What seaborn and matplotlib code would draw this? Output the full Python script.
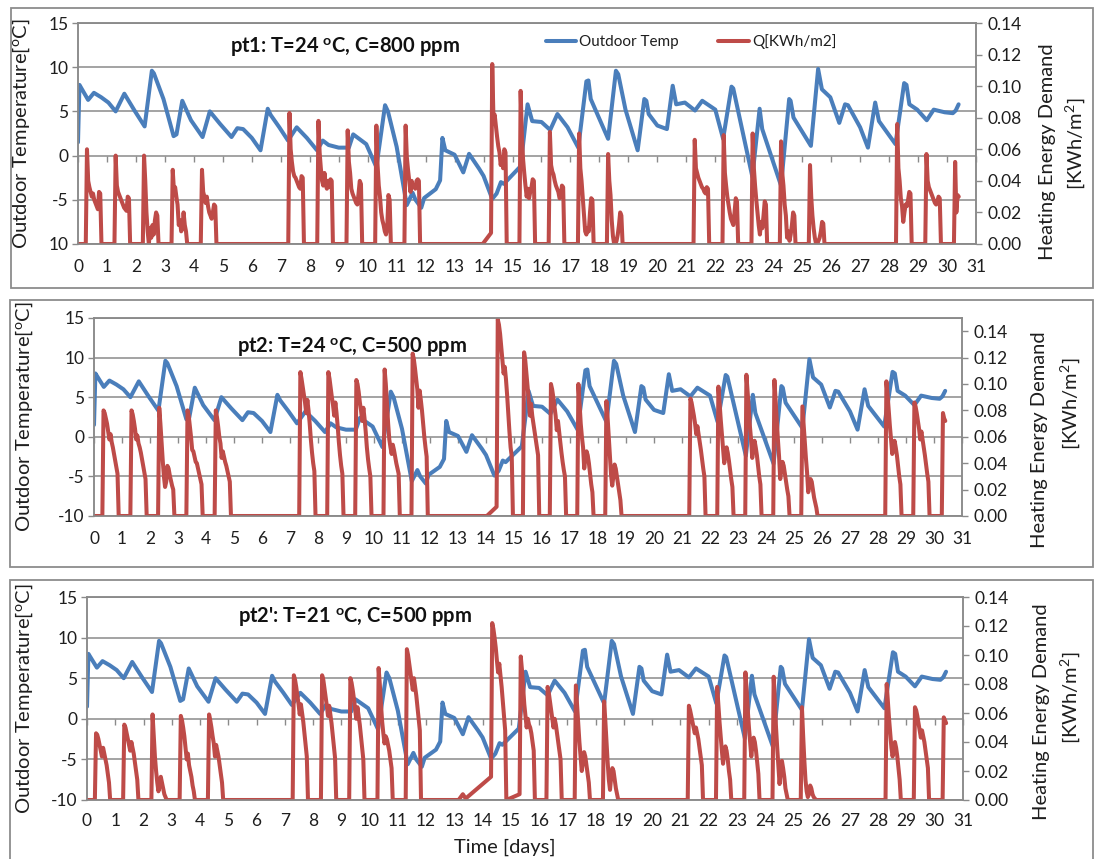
import numpy as np
import pandas as pd
import matplotlib
matplotlib.use("Agg")
import matplotlib.pyplot as plt
from matplotlib.patches import Rectangle
import seaborn as sns

# ---------------------------------------------
# Outdoor temperature (same in all three panels), key points
# ---------------------------------------------
temp_day = [0.00, 0.05, 0.12, 0.35, 0.55, 0.80, 1.05, 1.30, 1.60, 1.95, 2.30, 2.55, 2.62, 2.95,
            3.30, 3.40, 3.60, 3.90, 4.30, 4.55, 4.90, 5.30, 5.50, 5.70, 6.00, 6.30, 6.55, 6.65,
            6.95, 7.25, 7.55, 7.90, 8.25, 8.45, 8.65, 9.00, 9.35, 9.50, 9.95, 10.30, 10.60, 10.70,
            11.00, 11.35, 11.55, 11.65, 11.85, 11.95, 12.35, 12.50, 12.58, 12.68, 13.00, 13.30,
            13.50, 13.85, 14.00, 14.30, 14.45, 14.60, 14.70, 15.28, 15.52, 15.68, 16.00, 16.30,
            16.55, 16.90, 17.27, 17.55, 17.62, 17.70, 18.30, 18.57, 18.65, 18.90, 19.32, 19.55,
            19.62, 19.70, 20.00, 20.33, 20.53, 20.65, 20.95, 21.30, 21.55, 22.00, 22.27, 22.56,
            22.62, 23.28, 23.53, 23.62, 24.27, 24.55, 24.60, 24.70, 25.30, 25.55, 25.68, 25.97,
            26.28, 26.48, 26.58, 27.00, 27.27, 27.52, 27.65, 28.22, 28.52, 28.60, 28.70, 28.97,
            29.30, 29.54, 29.92, 30.20, 30.30, 30.40]
temp_val = [1.5, 8.0, 7.6, 6.3, 7.1, 6.6, 6.0, 5.0, 7.0, 5.1, 3.3, 9.6, 9.3, 6.4,
            2.2, 2.4, 6.2, 4.0, 2.1, 5.0, 3.6, 2.1, 3.1, 3.0, 2.0, 0.6, 5.3, 4.6,
            3.2, 1.7, 3.2, 2.0, 0.6, 1.7, 1.2, 0.9, 0.9, 2.4, 1.3, -1.3, 5.7, 5.0,
            1.0, -5.6, -4.2, -5.0, -5.9, -4.8, -3.8, -2.8, 2.0, 0.6, 0.1, -1.9,
            0.2, -1.5, -2.3, -4.9, -4.3, -3.0, -3.2, -1.2, 5.8, 3.9, 3.8, 2.9,
            4.7, 3.2, 0.9, 8.4, 8.5, 6.4, 1.9, 9.6, 9.2, 5.2, 0.6, 6.4,
            6.2, 4.7, 3.4, 3.0, 7.9, 5.8, 6.0, 5.1, 6.2, 5.2, 1.9, 7.8,
            7.6, -2.4, 5.3, 3.0, -3.4, 6.4, 6.2, 4.3, 1.1, 9.8, 7.5, 6.6,
            3.7, 5.8, 5.7, 3.2, 0.9, 6.0, 3.9, 1.3, 8.2, 8.0, 5.8, 5.2,
            4.0, 5.2, 4.9, 4.8, 5.1, 5.8]

# ---------------------------------------------
# Heating demand Q [kWh/m2]: one hourly pulse per working day
# (start day of the pulse, hourly values, value just before the pulse)
# ---------------------------------------------
pt1_start = [0.31, 1.30, 2.28, 3.27, 4.28, 7.30, 8.30, 9.31, 10.30, 11.31, 14.30, 15.28,
             16.29, 17.30, 18.30, 21.29, 22.29, 23.29, 24.27, 25.27, 28.28, 29.29, 30.28]
pt1_pre = {14.30: 0.007}
pt1_extra_t = [13.97]
pt1_extra_q = [0.0]
pt1_q = [
    [0.060, 0.040, 0.036, 0.033, 0.030, 0.032, 0.028, 0.026, 0.024, 0.022, 0.033, 0.032],
    [0.056, 0.037, 0.033, 0.031, 0.029, 0.027, 0.025, 0.023, 0.022, 0.021, 0.030, 0.029],
    [0.056, 0.040, 0.020, 0.008, 0.000, 0.010, 0.004, 0.012, 0.006, 0.015, 0.020, 0.018],
    [0.047, 0.034, 0.036, 0.030, 0.025, 0.012, 0.015, 0.008, 0.010, 0.020, 0.012, 0.008],
    [0.047, 0.033, 0.030, 0.026, 0.030, 0.024, 0.020, 0.018, 0.016, 0.020, 0.025, 0.024],
    [0.083, 0.060, 0.052, 0.046, 0.043, 0.042, 0.040, 0.038, 0.036, 0.035, 0.043, 0.042],
    [0.078, 0.058, 0.048, 0.040, 0.037, 0.045, 0.038, 0.035, 0.040, 0.036, 0.041, 0.040],
    [0.072, 0.052, 0.045, 0.035, 0.032, 0.030, 0.028, 0.026, 0.025, 0.032, 0.040, 0.038],
    [0.075, 0.050, 0.037, 0.030, 0.020, 0.015, 0.012, 0.008, 0.006, 0.010, 0.031, 0.028],
    [0.075, 0.055, 0.047, 0.040, 0.033, 0.040, 0.036, 0.037, 0.035, 0.040, 0.041, 0.040],
    [0.114, 0.080, 0.082, 0.075, 0.068, 0.062, 0.058, 0.050, 0.055, 0.048, 0.060, 0.058],
    [0.097, 0.070, 0.054, 0.045, 0.037, 0.030, 0.035, 0.029, 0.033, 0.036, 0.041, 0.040],
    [0.071, 0.050, 0.046, 0.044, 0.040, 0.037, 0.035, 0.033, 0.029, 0.030, 0.037, 0.036],
    [0.070, 0.048, 0.040, 0.029, 0.018, 0.008, 0.006, 0.010, 0.008, 0.020, 0.029, 0.028],
    [0.057, 0.040, 0.031, 0.015, 0.005, 0.000, 0.000, 0.002, 0.006, 0.012, 0.020, 0.018],
    [0.066, 0.048, 0.045, 0.042, 0.040, 0.038, 0.036, 0.035, 0.033, 0.032, 0.036, 0.035],
    [0.069, 0.045, 0.037, 0.030, 0.025, 0.020, 0.016, 0.014, 0.012, 0.020, 0.029, 0.027],
    [0.070, 0.048, 0.037, 0.028, 0.020, 0.012, 0.006, 0.014, 0.010, 0.018, 0.027, 0.025],
    [0.065, 0.045, 0.037, 0.025, 0.018, 0.004, 0.008, 0.002, 0.006, 0.012, 0.020, 0.018],
    [0.050, 0.030, 0.018, 0.010, 0.004, 0.000, 0.000, 0.002, 0.004, 0.008, 0.014, 0.013],
    [0.076, 0.048, 0.040, 0.029, 0.024, 0.014, 0.020, 0.025, 0.024, 0.028, 0.033, 0.032],
    [0.057, 0.040, 0.036, 0.034, 0.032, 0.030, 0.028, 0.026, 0.025, 0.027, 0.030, 0.029],
    [0.052, 0.020, 0.031, 0.030],
]

pt2_start = [0.34, 1.34, 2.33, 3.34, 4.35, 7.37, 8.37, 9.37, 10.38, 11.38, 14.42, 15.36,
             16.32, 17.30, 18.30, 21.30, 22.30, 23.30, 24.30, 25.30, 28.30, 29.30, 30.32]
pt2_pre = {14.42: 0.007}
pt2_extra_t = [14.03]
pt2_extra_q = [0.0]
pt2_q = [
    [0.080, 0.078, 0.074, 0.070, 0.064, 0.058, 0.062, 0.056, 0.052, 0.047, 0.042, 0.037, 0.032],
    [0.080, 0.077, 0.072, 0.066, 0.058, 0.061, 0.055, 0.052, 0.048, 0.043, 0.038, 0.033, 0.028],
    [0.082, 0.070, 0.056, 0.042, 0.030, 0.022, 0.026, 0.038, 0.036, 0.031, 0.027, 0.023, 0.020],
    [0.080, 0.076, 0.068, 0.060, 0.050, 0.049, 0.045, 0.041, 0.040, 0.036, 0.032, 0.028, 0.024],
    [0.080, 0.075, 0.068, 0.060, 0.055, 0.044, 0.049, 0.045, 0.041, 0.038, 0.034, 0.030, 0.026],
    [0.109, 0.104, 0.098, 0.092, 0.086, 0.078, 0.088, 0.080, 0.070, 0.058, 0.048, 0.040, 0.034],
    [0.109, 0.104, 0.097, 0.090, 0.084, 0.076, 0.086, 0.078, 0.068, 0.056, 0.046, 0.038, 0.032],
    [0.103, 0.100, 0.094, 0.086, 0.080, 0.072, 0.082, 0.074, 0.064, 0.052, 0.043, 0.036, 0.030],
    [0.111, 0.100, 0.085, 0.070, 0.058, 0.052, 0.047, 0.054, 0.050, 0.045, 0.040, 0.036, 0.032],
    [0.123, 0.119, 0.112, 0.104, 0.096, 0.082, 0.095, 0.088, 0.080, 0.070, 0.060, 0.052, 0.045],
    [0.149, 0.145, 0.138, 0.128, 0.118, 0.108, 0.113, 0.104, 0.092, 0.078, 0.064, 0.052, 0.045],
    [0.124, 0.118, 0.108, 0.098, 0.088, 0.076, 0.085, 0.076, 0.070, 0.064, 0.058, 0.052, 0.046],
    [0.100, 0.096, 0.090, 0.083, 0.076, 0.065, 0.072, 0.064, 0.056, 0.048, 0.041, 0.035, 0.030],
    [0.100, 0.085, 0.070, 0.060, 0.052, 0.036, 0.044, 0.049, 0.046, 0.040, 0.032, 0.024, 0.018],
    [0.087, 0.075, 0.060, 0.045, 0.031, 0.023, 0.030, 0.039, 0.036, 0.030, 0.024, 0.018, 0.012],
    [0.089, 0.086, 0.081, 0.076, 0.070, 0.062, 0.068, 0.062, 0.056, 0.050, 0.043, 0.036, 0.030],
    [0.098, 0.085, 0.073, 0.062, 0.052, 0.040, 0.046, 0.052, 0.048, 0.042, 0.035, 0.028, 0.022],
    [0.107, 0.095, 0.082, 0.068, 0.058, 0.044, 0.052, 0.057, 0.052, 0.046, 0.038, 0.030, 0.024],
    [0.103, 0.088, 0.074, 0.058, 0.045, 0.028, 0.036, 0.041, 0.038, 0.032, 0.026, 0.020, 0.015],
    [0.083, 0.070, 0.056, 0.044, 0.033, 0.018, 0.024, 0.028, 0.026, 0.020, 0.014, 0.010, 0.006],
    [0.102, 0.092, 0.080, 0.068, 0.058, 0.047, 0.054, 0.057, 0.052, 0.046, 0.038, 0.030, 0.024],
    [0.086, 0.083, 0.078, 0.072, 0.066, 0.058, 0.064, 0.058, 0.052, 0.046, 0.039, 0.032, 0.026],
    [0.078, 0.074, 0.072],
]

pt3_start = [0.32, 1.32, 2.32, 3.32, 4.32, 7.32, 8.32, 9.32, 10.32, 11.32, 14.34, 15.35,
             16.30, 17.30, 18.30, 21.30, 22.30, 23.30, 24.30, 25.30, 28.30, 29.30, 30.32]
pt3_pre = {14.34: 0.016, 15.35: 0.004}
pt3_extra_t = [13.15, 13.30, 13.40]
pt3_extra_q = [0.0, 0.004, 0.001]
pt3_q = [
    [0.046, 0.045, 0.042, 0.038, 0.034, 0.030, 0.036, 0.032, 0.028, 0.024, 0.018, 0.012],
    [0.052, 0.050, 0.046, 0.042, 0.038, 0.034, 0.040, 0.036, 0.032, 0.026, 0.020, 0.014],
    [0.059, 0.045, 0.030, 0.020, 0.012, 0.006, 0.010, 0.016, 0.012, 0.008, 0.004, 0.002],
    [0.058, 0.055, 0.050, 0.044, 0.036, 0.028, 0.032, 0.024, 0.020, 0.016, 0.010, 0.006],
    [0.059, 0.055, 0.050, 0.044, 0.039, 0.030, 0.038, 0.034, 0.030, 0.024, 0.018, 0.012],
    [0.086, 0.083, 0.078, 0.072, 0.066, 0.059, 0.066, 0.060, 0.054, 0.046, 0.038, 0.030],
    [0.086, 0.083, 0.077, 0.071, 0.065, 0.058, 0.065, 0.059, 0.053, 0.045, 0.037, 0.029],
    [0.084, 0.081, 0.076, 0.070, 0.063, 0.056, 0.064, 0.058, 0.052, 0.044, 0.036, 0.028],
    [0.091, 0.080, 0.066, 0.054, 0.046, 0.039, 0.044, 0.042, 0.038, 0.034, 0.028, 0.022],
    [0.104, 0.100, 0.094, 0.088, 0.082, 0.076, 0.084, 0.078, 0.072, 0.064, 0.056, 0.048],
    [0.122, 0.118, 0.112, 0.105, 0.096, 0.088, 0.094, 0.086, 0.078, 0.068, 0.058, 0.048],
    [0.099, 0.090, 0.078, 0.066, 0.058, 0.050, 0.056, 0.052, 0.050, 0.046, 0.040, 0.034],
    [0.078, 0.074, 0.068, 0.062, 0.056, 0.050, 0.056, 0.052, 0.046, 0.040, 0.034, 0.028],
    [0.079, 0.066, 0.052, 0.040, 0.030, 0.020, 0.026, 0.033, 0.030, 0.024, 0.018, 0.012],
    [0.068, 0.055, 0.040, 0.026, 0.014, 0.007, 0.016, 0.022, 0.020, 0.014, 0.008, 0.004],
    [0.065, 0.062, 0.058, 0.054, 0.050, 0.046, 0.050, 0.046, 0.042, 0.036, 0.030, 0.024],
    [0.078, 0.066, 0.054, 0.044, 0.034, 0.025, 0.032, 0.037, 0.034, 0.028, 0.020, 0.014],
    [0.088, 0.076, 0.062, 0.050, 0.040, 0.030, 0.038, 0.043, 0.040, 0.034, 0.026, 0.018],
    [0.085, 0.068, 0.050, 0.036, 0.024, 0.011, 0.020, 0.027, 0.022, 0.016, 0.008, 0.004],
    [0.064, 0.045, 0.028, 0.014, 0.006, 0.002, 0.004, 0.010, 0.008, 0.004, 0.002, 0.001],
    [0.080, 0.068, 0.056, 0.046, 0.036, 0.030, 0.036, 0.040, 0.036, 0.030, 0.022, 0.014],
    [0.064, 0.062, 0.058, 0.053, 0.048, 0.043, 0.048, 0.044, 0.040, 0.034, 0.028, 0.022],
    [0.057, 0.055, 0.053],
]

panel_titles = ["pt1: T=24 $^{\\mathbf{o}}$C, C=800 ppm",
                "pt2: T=24 $^{\\mathbf{o}}$C, C=500 ppm",
                "pt2': T=21 $^{\\mathbf{o}}$C, C=500 ppm"]
q_max = [0.14, 0.15, 0.14]
temp_ticks = [-10, -5, 0, 5, 10, 15]
q_ticks = [0.00, 0.02, 0.04, 0.06, 0.08, 0.10, 0.12, 0.14]
day_ticks = list(range(0, 32))

BLUE = "#4a7ebb"
RED = "#be4b48"
GRID = "#8a8a8a"
TXT = "#1e1e1e"
HOUR = 1 / 24


def build_q(starts, pulses, pre, extra_t, extra_q):
    # hourly pulse values -> polyline with zero between the pulses
    t, q = [0.0], [0.0]
    for i, (s, vals) in enumerate(zip(starts, pulses)):
        t.append(s - HOUR)
        q.append(pre.get(s, 0.0))
        t += [s + k * HOUR for k in range(len(vals))]
        q += vals
        if i < len(starts) - 1:
            t.append(s + len(vals) * HOUR)
            q.append(0.0)
    t += extra_t
    q += extra_q
    df = pd.DataFrame({"day": t, "q": q}).sort_values("day", kind="stable")
    return df


temp_df = pd.DataFrame({"day": temp_day, "temp": temp_val})
q_frames = [build_q(pt1_start, pt1_q, pt1_pre, pt1_extra_t, pt1_extra_q),
            build_q(pt2_start, pt2_q, pt2_pre, pt2_extra_t, pt2_extra_q),
            build_q(pt3_start, pt3_q, pt3_pre, pt3_extra_t, pt3_extra_q)]

sns.set_style("white")
plt.rcParams["font.family"] = ["Lato", "DejaVu Sans"]
plt.rcParams["mathtext.fontset"] = "custom"
plt.rcParams["mathtext.rm"] = "Lato"
plt.rcParams["mathtext.it"] = "Lato:italic"
plt.rcParams["mathtext.bf"] = "Lato:bold"

W, H = 1096, 859
fig = plt.figure(figsize=(W / 100, H / 100), dpi=100)


def fx(px):
    return px / W


def fy(py):
    return 1 - py / H


# pixel layout: plot box (left, right, top, bottom), frame box, text positions
plot_boxes = [(78, 976, 23, 244), (94, 962, 318, 516), (87, 963, 597, 800)]
frame_boxes = [(11, 1093, 8, 288), (10, 1093, 300, 567), (10, 1093, 580, 866)]
title_pos = [(345, 47), (352, 347), (355, 617)]
left_label_x = [32, 35, 35]
right_label1 = [(1047, 152), (1040, 440), (1041, 712)]
right_label2 = [(1075, 144), (1070, 404), (1070, 698)]
xpads = [11, 11, 9]

for i in range(3):
    l, r, t, b = plot_boxes[i]
    fl, fr, ft, fb = frame_boxes[i]
    fig.patches.append(Rectangle((fx(fl), fy(fb)), fx(fr - fl), (fb - ft) / H,
                                 transform=fig.transFigure, fill=False,
                                 edgecolor="#8c8c8c", lw=1.3, zorder=0))

    ax = fig.add_axes([fx(l), fy(b), fx(r - l), (b - t) / H])
    ax2 = ax.twinx()

    sns.lineplot(data=temp_df, x="day", y="temp", ax=ax, color=BLUE, lw=2.9,
                 sort=False, estimator=None, legend=False, label="Outdoor Temp")
    sns.lineplot(data=q_frames[i], x="day", y="q", ax=ax2, color=RED, lw=2.9,
                 sort=False, estimator=None, legend=False, label="Q[KWh/m2]")

    # left axis: temperature
    ax.set_xlim(0, 31)
    ax.set_ylim(-10, 15)
    ax.set_yticks(temp_ticks)
    labels = [str(v) for v in temp_ticks]
    if i == 0:
        labels[0] = "10"  # minus sign is clipped in the original
    ax.set_yticklabels(labels)
    ax.set_xticks(day_ticks)
    ax.set_xticklabels([str(d) for d in day_ticks])
    ax.grid(axis="y", color=GRID, lw=1.1)
    ax.grid(axis="x", visible=False)
    for sp in ax.spines.values():
        sp.set_color(GRID)
        sp.set_linewidth(1.1)
    ax.tick_params(axis="y", direction="out", length=4, color=GRID, width=1,
                   labelsize=12.5, labelcolor=TXT, pad=3, left=True)
    ax.tick_params(axis="x", length=0, labelsize=12.5, labelcolor=TXT, pad=xpads[i])
    ax.set_xlabel("")
    ax.set_ylabel("Outdoor Temperature[$^{\\mathrm{o}}$C]", fontsize=14.5, color=TXT)
    ax.yaxis.set_label_coords((left_label_x[i] - l) / (r - l), 0.5)

    # day ticks sit on the 0 degC line
    sec = ax.secondary_xaxis(10 / 25)
    sec.set_xticks(day_ticks)
    sec.tick_params(axis="x", direction="out", length=4, color=GRID, width=1,
                    labelbottom=False, labeltop=False, bottom=True, top=False)
    sec.spines["bottom"].set_visible(False)
    sec.spines["top"].set_visible(False)

    # right axis: heating demand
    ax2.set_ylim(0, q_max[i])
    ax2.set_yticks(q_ticks)
    ax2.set_yticklabels([f"{v:.2f}" for v in q_ticks])
    ax2.grid(False)
    for sp in ax2.spines.values():
        sp.set_color(GRID)
        sp.set_linewidth(1.1)
    ax2.tick_params(axis="y", direction="out", length=4, color=GRID, width=1,
                    labelsize=12.5, labelcolor=TXT, pad=4, right=True)
    ax2.set_ylabel("")

    fig.text(fx(right_label1[i][0]), fy(right_label1[i][1]), "Heating Energy Demand",
             rotation=90, ha="center", va="center", fontsize=14.5, color=TXT)
    fig.text(fx(right_label2[i][0]), fy(right_label2[i][1]), "[KWh/m$^{2}$]",
             rotation=90, ha="center", va="center", fontsize=14.5, color=TXT)

    fig.text(fx(title_pos[i][0]), fy(title_pos[i][1]), panel_titles[i],
             ha="center", va="center", fontsize=14.5, fontweight="bold", color="#111111")

    if i == 0:
        handles = [ax.get_lines()[0], ax2.get_lines()[0]]
        fig.legend(handles, ["Outdoor Temp", "Q[KWh/m2]"], loc="center",
                   bbox_to_anchor=(fx(691), fy(42)), ncol=2, frameon=False,
                   fontsize=11, handlelength=2.0, handletextpad=0.2,
                   columnspacing=2.6, labelcolor=TXT)

fig.text(fx(505), fy(847), "Time [days]", ha="center", va="center",
         fontsize=14.5, color=TXT)

plt.savefig("out.png", dpi=100)
plt.close()
